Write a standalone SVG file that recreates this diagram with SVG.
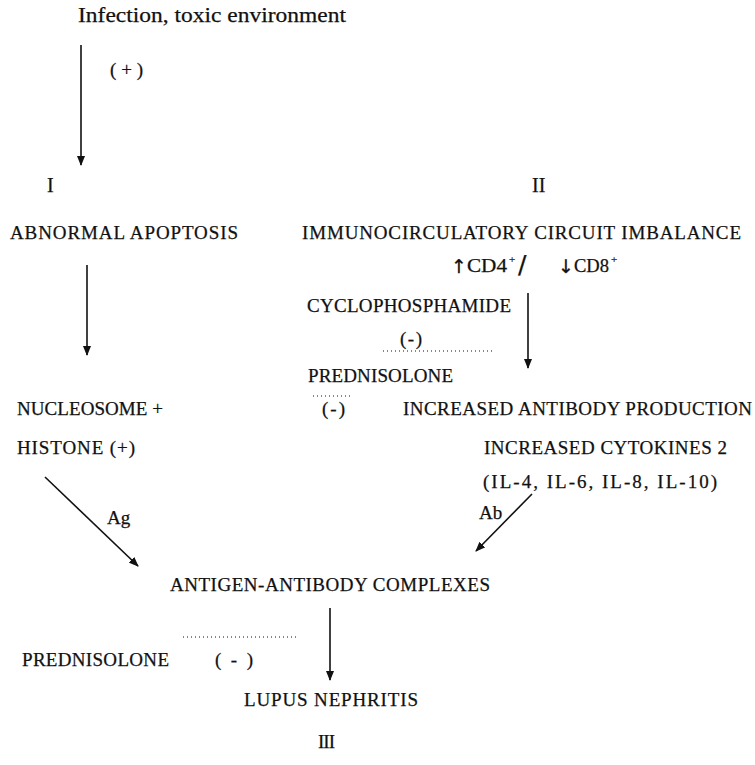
<svg xmlns="http://www.w3.org/2000/svg" width="755" height="765" viewBox="0 0 755 765">
<style>
text{font-family:"Liberation Serif","Times New Roman",serif;fill:#111;stroke:#111;stroke-width:0.25;}
.t{font-size:19px;}
.big{font-size:22px;}
.c{stroke:#111;stroke-width:1.6;fill:none;}
.d{stroke:#111;stroke-width:1.2;stroke-dasharray:1 3;fill:none;}
</style>
<defs>
<marker id="ah" viewBox="0 0 10 8" refX="9" refY="4" markerWidth="10" markerHeight="8" markerUnits="userSpaceOnUse" orient="auto">
<path d="M0,0 L10,4 L0,8 z" fill="#111"/>
</marker>
</defs>
<rect width="755" height="765" fill="#fff"/>
<g id="connectors">
<line class="c" x1="81" y1="45" x2="81" y2="165" marker-end="url(#ah)"/>
<line class="c" x1="87" y1="265" x2="87" y2="355" marker-end="url(#ah)"/>
<line class="c" x1="528" y1="293" x2="528" y2="368" marker-end="url(#ah)"/>
<line class="c" x1="45" y1="477" x2="138" y2="566" marker-end="url(#ah)"/>
<line class="c" x1="532" y1="494" x2="476" y2="551" marker-end="url(#ah)"/>
<line class="c" x1="330" y1="608" x2="330" y2="680" marker-end="url(#ah)"/>
<line class="d" x1="383" y1="351" x2="493" y2="351"/>
<line class="d" x1="313" y1="396" x2="352" y2="396"/>
<line class="d" x1="183" y1="637" x2="298" y2="637"/>
<text class="t" x="400" y="345" textLength="22" lengthAdjust="spacing">(-)</text>
<text class="t" x="322" y="415" textLength="23" lengthAdjust="spacing">(-)</text>
<text class="t" x="215" y="666" textLength="38" lengthAdjust="spacing">(-)</text>
<text class="t" x="107" y="524">Ag</text>
<text class="t" x="479" y="519">Ab</text>
</g>
<g id="infection">
<text class="big" x="78" y="22" textLength="268" lengthAdjust="spacingAndGlyphs">Infection, toxic environment</text>
<text class="t" x="110" y="76" textLength="33" lengthAdjust="spacing">(+)</text>
</g>
<g id="apoptosis">
<text class="t" x="47" y="192" style="font-size:20px">I</text>
<text class="t" x="10" y="239" textLength="228" lengthAdjust="spacing">ABNORMAL APOPTOSIS</text>
</g>
<g id="imbalance">
<text class="t" x="532" y="192" style="font-size:20px">II</text>
<text class="t" x="302" y="239" textLength="439" lengthAdjust="spacing">IMMUNOCIRCULATORY CIRCUIT IMBALANCE</text>
<text x="451" y="273" style="font-family:'DejaVu Sans',sans-serif;font-size:19px">↑</text>
<text x="467" y="272" style="font-size:18px" textLength="40" lengthAdjust="spacingAndGlyphs">CD4</text>
<text x="509" y="263" style="font-size:11px">+</text>
<text x="518" y="273" style="font-family:'DejaVu Sans',sans-serif;font-size:25px">/</text>
<text x="558" y="273" style="font-family:'DejaVu Sans',sans-serif;font-size:19px">↓</text>
<text x="574" y="272" style="font-size:18px" textLength="35" lengthAdjust="spacingAndGlyphs">CD8</text>
<text x="611" y="263" style="font-size:11px">+</text>
</g>
<g id="cyclophosphamide">
<text class="t" x="307" y="312" textLength="204" lengthAdjust="spacing">CYCLOPHOSPHAMIDE</text>
</g>
<g id="prednisolone1">
<text class="t" x="308" y="382" textLength="145" lengthAdjust="spacing">PREDNISOLONE</text>
</g>
<g id="antibody">
<text class="t" x="403" y="415" textLength="349" lengthAdjust="spacing">INCREASED ANTIBODY PRODUCTION</text>
<text class="t" x="484" y="454" textLength="243" lengthAdjust="spacing">INCREASED CYTOKINES 2</text>
<text class="t" x="483" y="488" textLength="234" lengthAdjust="spacing">(IL-4, IL-6, IL-8, IL-10)</text>
</g>
<g id="nucleosome">
<text class="t" x="17" y="415" textLength="146" lengthAdjust="spacing">NUCLEOSOME +</text>
<text class="t" x="17" y="454" textLength="118" lengthAdjust="spacing">HISTONE (+)</text>
</g>
<g id="complexes">
<text class="t" x="170" y="591" textLength="320" lengthAdjust="spacing">ANTIGEN-ANTIBODY COMPLEXES</text>
</g>
<g id="prednisolone2">
<text class="t" x="22" y="666" textLength="147" lengthAdjust="spacing">PREDNISOLONE</text>
</g>
<g id="nephritis">
<text class="t" x="244" y="706" textLength="174" lengthAdjust="spacing">LUPUS NEPHRITIS</text>
<text class="t" x="318" y="748" textLength="17" lengthAdjust="spacing">III</text>
</g>
</svg>
